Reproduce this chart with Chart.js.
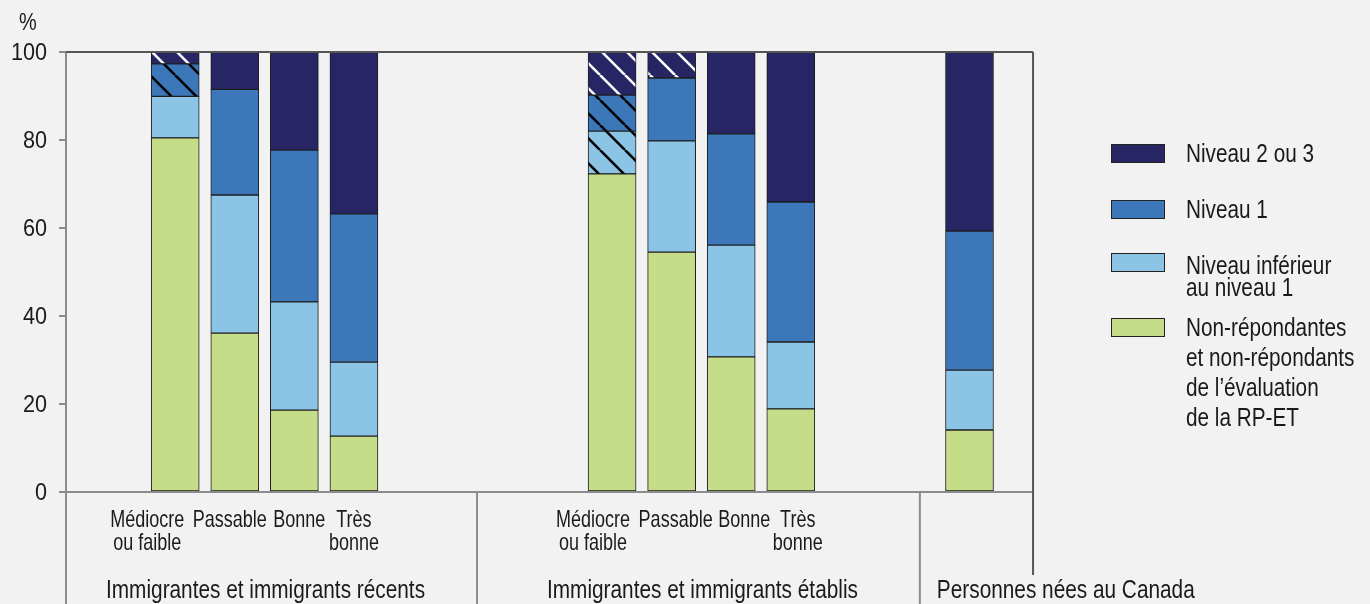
<!DOCTYPE html>
<html lang="fr">
<head>
<meta charset="utf-8">
<title>Niveaux de littératie selon la connaissance autodéclarée</title>
<script src="https://cdn.jsdelivr.net/npm/chart.js@4.4.1/dist/chart.umd.min.js"></script>
<style>
  html, body { margin: 0; padding: 0; background: #f2f2f2; }
  #wrap { position: relative; width: 1370px; height: 604px; overflow: hidden; }
  #chart { position: absolute; left: 0; top: 0; }
  .txt { position: absolute; font-family: 'Liberation Sans', Arial, sans-serif;
         font-size: 25px; color: #1a1a1a; white-space: nowrap;
         transform: scaleX(0.83); transform-origin: 0 0; }
  .sw { position: absolute; left: 1111px; width: 52px; height: 17px; border: 1px solid #222; }
</style>
</head>
<body>
<div id="wrap">
  <canvas id="chart" width="1370" height="604"></canvas>
  <div class="txt" style="left:19px; top:7px; line-height:30px; font-size:24px;">%</div>

  <div class="sw" style="top:144px; background:#272564;"></div>
  <div class="txt" style="left:1186px; top:138px; line-height:30px;">Niveau 2 ou 3</div>
  <div class="sw" style="top:200px; background:#3c78b9;"></div>
  <div class="txt" style="left:1186px; top:194px; line-height:30px;">Niveau 1</div>
  <div class="sw" style="top:253px; background:#8cc4e6;"></div>
  <div class="txt" style="left:1186px; top:254px; line-height:22px;">Niveau inférieur<br>au niveau 1</div>
  <div class="sw" style="top:318px; background:#c5dd88;"></div>
  <div class="txt" style="left:1186px; top:312px; line-height:30px;">Non-répondantes<br>et non-répondants<br>de l’évaluation<br>de la RP-ET</div>
</div>
<script>
const FAMILY = "'Liberation Sans', Arial, sans-serif"

// one entry per bar, left to right
const barLabels = [
  ['Médiocre', 'ou faible'], ['Passable'], ['Bonne'], ['Très', 'bonne'],
  ['Médiocre', 'ou faible'], ['Passable'], ['Bonne'], ['Très', 'bonne'],
  [],
]
const groupLabels = [
  'Immigrantes et immigrants récents',
  'Immigrantes et immigrants établis',
  'Personnes nées au Canada',
]

// % of each bar, bottom to top
const nonRespondents = [80.5, 36.1, 18.6, 12.7, 72.3, 54.5, 30.7, 18.9, 14.1]
const belowLevel1    = [ 9.4, 31.4, 24.6, 16.8,  9.7, 25.3, 25.4, 15.2, 13.6]
const level1         = [ 7.4, 24.0, 34.5, 33.7,  8.2, 14.3, 25.3, 31.8, 31.6]
const level2or3      = [ 2.7,  8.5, 22.3, 36.8,  9.8,  5.9, 18.6, 34.1, 40.7]

// bars whose segment is hatched (use with caution)
const cautionLevel2or3 = [0, 4, 5]
const cautionLevel1    = [0, 4]
const cautionBelow1    = [4]

const yTicks = [0, 20, 40, 60, 80, 100]

// layout: bars sit on a fine category grid
const SLOT_COUNT = 49
const SLOTS = [5, 8, 11, 14, 27, 30, 33, 36, 45]
const LABEL_DX = [-28, -5, 5, 0, -19, 4, 13, 7, 0]

function spread(values) {
  const out = new Array(SLOT_COUNT).fill(null)
  SLOTS.forEach((s, i) => { out[s] = values[i] })
  return out
}

const ctx = document.getElementById('chart').getContext('2d')

function hatch(bg, ink) {
  const s = 25
  const c = document.createElement('canvas')
  c.width = c.height = s
  const g = c.getContext('2d')
  g.fillStyle = bg
  g.fillRect(0, 0, s, s)
  g.strokeStyle = ink
  g.lineWidth = 2.6
  g.beginPath()
  for (const o of [-s, 0, s]) { g.moveTo(o, 0); g.lineTo(o + s, s) }
  g.stroke()
  return ctx.createPattern(c, 'repeat')
}

function fills(color, caution, ink) {
  const pat = hatch(color, ink)
  return spread(SLOTS.map((_, i) => caution.includes(i) ? pat : color))
}

// narrow text: draw with a horizontal squeeze
function narrowText(c, text, x, y, size, sx, align) {
  c.save()
  c.font = `${size}px ${FAMILY}`
  c.textAlign = align
  c.translate(x, y)
  c.scale(sx, 1)
  c.fillText(text, 0, 0)
  c.restore()
}

const frame = {
  id: 'frame',
  afterDraw(chart) {
    const { ctx: c, chartArea: a, scales: { x, y } } = chart
    const sep1 = x.getPixelForValue(20.2)
    const sep2 = x.getPixelForValue(42.5)
    const right = x.getPixelForValue(48.2)
    c.save()
    c.lineWidth = 2
    c.strokeStyle = '#8c8c8c'
    c.beginPath()
    c.moveTo(a.left, a.top); c.lineTo(a.left, 604)
    c.moveTo(a.left, a.bottom); c.lineTo(right, a.bottom)
    c.moveTo(sep1, a.bottom); c.lineTo(sep1, 604)
    c.moveTo(sep2, a.bottom); c.lineTo(sep2, 604)
    c.stroke()
    c.strokeStyle = '#555'
    c.beginPath()
    c.moveTo(a.left, a.top); c.lineTo(right, a.top)
    c.moveTo(right, a.top); c.lineTo(right, a.bottom + 83)
    c.stroke()

    c.fillStyle = '#1a1a1a'
    c.textBaseline = 'middle'
    y.ticks.forEach(t => narrowText(c, String(t.value), a.left - 19, y.getPixelForValue(t.value) + 1, 24, 0.9, 'right'))

    c.textBaseline = 'alphabetic'
    barLabels.forEach((lines, i) => {
      const cx = x.getPixelForValue(SLOTS[i]) + LABEL_DX[i]
      lines.forEach((t, j) => narrowText(c, t, cx, a.bottom + 35 + j * 23, 24, 0.75, 'center'))
    })
    narrowText(c, groupLabels[0], (a.left + sep1) / 2 - 6, a.bottom + 106, 26, 0.8, 'center')
    narrowText(c, groupLabels[1], (sep1 + sep2) / 2 + 4, a.bottom + 106, 26, 0.8, 'center')
    narrowText(c, groupLabels[2], sep2 + 17, a.bottom + 106, 26, 0.8, 'left')
    c.restore()
  },
}

const NAVY = '#272564', BLUE = '#3c78b9', LIGHT = '#8cc4e6', GREEN = '#c5dd88'

new Chart(ctx, {
  type: 'bar',
  data: {
    labels: new Array(SLOT_COUNT).fill(''),
    datasets: [
      { label: 'Non-répondantes et non-répondants de l’évaluation de la RP-ET', data: spread(nonRespondents), backgroundColor: GREEN },
      { label: 'Niveau inférieur au niveau 1', data: spread(belowLevel1), backgroundColor: fills(LIGHT, cautionBelow1, '#000') },
      { label: 'Niveau 1', data: spread(level1), backgroundColor: fills(BLUE, cautionLevel1, '#000') },
      { label: 'Niveau 2 ou 3', data: spread(level2or3), backgroundColor: fills(NAVY, cautionLevel2or3, '#fff') },
    ],
  },
  options: {
    responsive: false,
    animation: false,
    layout: { padding: { left: 0, top: 52, right: 331, bottom: 112 } },
    datasets: { bar: { barThickness: 48, borderColor: '#1e1e1e', borderWidth: 1, borderSkipped: false } },
    plugins: { legend: { display: false }, tooltip: { enabled: false } },
    scales: {
      x: { stacked: true, display: false },
      y: {
        stacked: true, min: 0, max: 100,
        afterBuildTicks: s => { s.ticks = yTicks.map(v => ({ value: v })) },
        afterFit: s => { s.width = 66; s.paddingTop = 0; s.paddingBottom = 0 },
        ticks: { display: false },
        grid: { drawOnChartArea: false, drawTicks: true, tickLength: 7, color: '#8c8c8c', lineWidth: 2 },
        border: { display: false },
      },
    },
  },
  plugins: [frame],
})
</script>
</body>
</html>
